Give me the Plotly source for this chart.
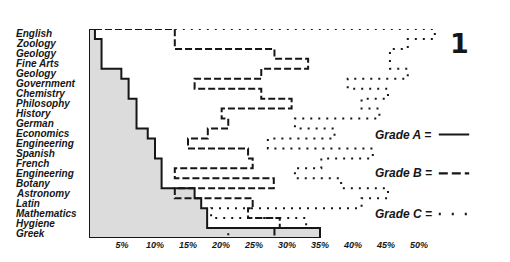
import plotly.graph_objects as go

subjects = ["English", "Zoology", "Geology", "Fine Arts", "Geology", "Government",
            "Chemistry", "Philosophy", "History", "German", "Economics", "Engineering",
            "Spanish", "French", "Engineering", "Botany", "Astronomy", "Latin",
            "Mathematics", "Hygiene", "Greek"]
grade_a = [0.9, 1.9, 1.9, 1.9, 4.9, 6.0, 6.0, 7.2, 7.2, 7.2, 8.9, 10.0, 10.0,
           11.0, 11.0, 11.0, 16.0, 17.0, 17.9, 17.9, 35.0]
grade_b = [13.0, 13.0, 28.1, 33.2, 26.1, 16.0, 26.1, 30.7, 20.1, 21.1, 18.0, 15.0,
           24.1, 24.8, 13.0, 28.0, 13.0, 24.8, 24.1, 28.9, 28.1]
grade_c = [52.4, 48.3, 45.6, 45.6, 48.3, 39.2, 45.3, 41.3, 44.0, 31.2, 37.2, 27.1,
           43.0, 35.2, 31.2, 38.2, 45.3, 41.3, 18.5, 32.9, 21.1]
tick_values = [5, 10, 15, 20, 25, 30, 35, 40, 45, 50]
tick_labels = ["5%", "10%", "15%", "20%", "25%", "30%", "35%", "40%", "45%", "50%"]
legend_labels = ["Grade A =", "Grade B =", "Grade C ="]
plate_number = "1"

INK = "#161616"
FILL = "#dcdcdc"
FAM = "Liberation Sans"

n = len(subjects)


def bi(t):
    return "<b><i>" + t + "</i></b>"


def steps(vals, start):
    xs, ys = [start], [0]
    for i, v in enumerate(vals):
        xs += [v, v]
        ys += [i, i + 1]
    return xs, ys


fig = go.Figure()

ax, ay = steps(grade_a, 0)
fig.add_trace(go.Scatter(x=ax + [0, 0], y=ay + [n, 0], mode="lines", fill="toself",
                         fillcolor=FILL, line=dict(width=0), hoverinfo="skip",
                         showlegend=False))

cx, cy = steps(grade_c, grade_b[0])
fig.add_trace(go.Scatter(x=cx, y=cy, mode="lines",
                         line=dict(color=INK, width=2, dash="2px,6px"),
                         showlegend=False))
bx, by = steps(grade_b, grade_a[0])
fig.add_trace(go.Scatter(x=bx, y=by, mode="lines",
                         line=dict(color=INK, width=2, dash="7px,3px"),
                         showlegend=False))
fig.add_trace(go.Scatter(x=ax + [0, 0], y=ay + [n, 0], mode="lines",
                         line=dict(color=INK, width=2), showlegend=False))

# legend samples
styles = [dict(color=INK, width=2), dict(color=INK, width=2.2, dash="9px,4px"),
          dict(color=INK, width=2.5, dash="2px,11px")]
leg_y = [10.6, 14.5, 18.6]
for lbl, yy, st in zip(legend_labels, leg_y, styles):
    fig.add_trace(go.Scatter(x=[53.0, 57.6], y=[yy, yy], mode="lines", line=st,
                             showlegend=False))
    fig.add_annotation(x=43.0, y=yy, xref="x", yref="y", text=bi(lbl), showarrow=False,
                       xanchor="left", yanchor="middle",
                       font=dict(family=FAM, size=12, color=INK))

# small ticks beyond the axis line
fig.add_trace(go.Scatter(x=tick_values[7:], y=[n + 0.25] * 3, mode="markers",
                         marker=dict(symbol="line-ns", size=4,
                                     line=dict(color=INK, width=1)),
                         cliponaxis=False, showlegend=False))

for i, s in enumerate(subjects):
    fig.add_annotation(x=-0.1894, y=i + 0.5, xref="paper", yref="y", text=bi(s),
                       showarrow=False, xanchor="left", yanchor="middle",
                       font=dict(family=FAM, size=10, color=INK))

fig.add_annotation(x=56.2, y=1.45, xref="x", yref="y", text="<b>" + plate_number + "</b>",
                   showarrow=False, xanchor="center", yanchor="middle",
                   font=dict(family="DejaVu Sans", size=27, color=INK))

fig.update_layout(
    width=510, height=262,
    margin=dict(l=89, r=25, t=29, b=24),
    paper_bgcolor="white", plot_bgcolor="white",
    xaxis=dict(range=[0, 60], tickvals=tick_values,
               ticktext=[bi(t) for t in tick_labels],
               showgrid=False, zeroline=False, showline=False, ticks="",
               tickfont=dict(family=FAM, size=9, color=INK)),
    yaxis=dict(range=[n, 0], showgrid=False, zeroline=False, showline=False,
               showticklabels=False, ticks=""),
)

fig.write_html("out.html")
